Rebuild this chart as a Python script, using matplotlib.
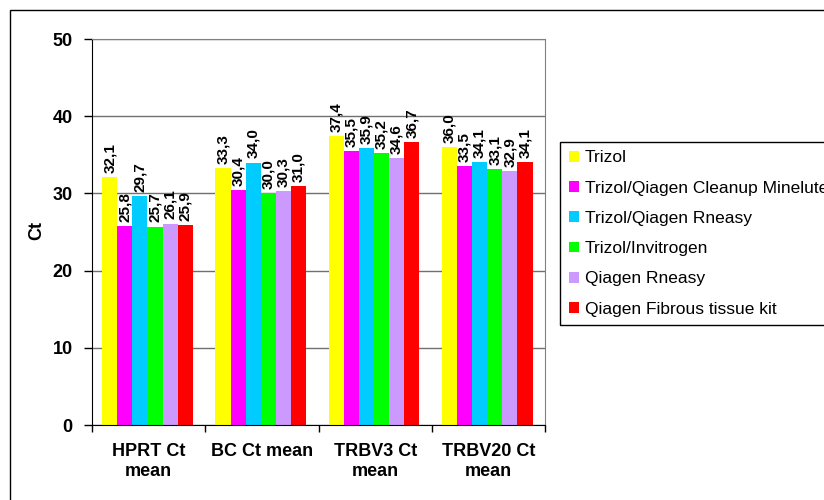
import matplotlib
matplotlib.use("Agg")
import matplotlib.pyplot as plt
from matplotlib.patches import Rectangle

plt.rcParams['font.family'] = ['Liberation Sans', 'DejaVu Sans']

categories = ["HPRT Ct\nmean", "BC Ct mean", "TRBV3 Ct\nmean", "TRBV20 Ct\nmean"]
series_names = ["Trizol", "Trizol/Qiagen Cleanup Minelute", "Trizol/Qiagen Rneasy",
                "Trizol/Invitrogen", "Qiagen Rneasy", "Qiagen Fibrous tissue kit"]
trizol = [32.1, 33.3, 37.4, 36.0]
minelute = [25.8, 30.4, 35.5, 33.5]
trizol_rneasy = [29.7, 34.0, 35.9, 34.1]
invitrogen = [25.7, 30.0, 35.2, 33.1]
qiagen_rneasy = [26.1, 30.3, 34.6, 32.9]
fibrous = [25.9, 31.0, 36.7, 34.1]
series = [trizol, minelute, trizol_rneasy, invitrogen, qiagen_rneasy, fibrous]
colors = ["#FFFF00", "#FF00FF", "#00CCFF", "#00FF00", "#CC99FF", "#FF0000"]

fig = plt.figure(figsize=(8.24, 5), dpi=100)
ax = fig.add_axes([92 / 824, 75 / 500, 453 / 824, 386 / 500])

w = 0.1335
xs = range(len(categories))
for i, (name, vals) in enumerate(zip(series_names, series)):
    pos = [x + (i - 2.5) * w - 0.01 for x in xs]
    ax.bar(pos, vals, width=w, color=colors[i], label=name, zorder=2)
    for p, v in zip(pos, vals):
        ax.annotate(f"{v:.1f}".replace(".", ","), (p, v), xytext=(0, 3),
                    textcoords="offset points", rotation=90, ha="center",
                    va="bottom", fontsize=11, fontweight="bold", zorder=3)

ax.set_ylim(0, 50)
ax.set_xlim(-0.5, 3.5)
ax.set_yticks(range(0, 51, 10))
ax.yaxis.grid(True, color="#707070", lw=1, zorder=0)
ax.tick_params(axis="y", length=6, width=1, pad=8, labelsize=13)
for lbl in ax.get_yticklabels():
    lbl.set_fontweight("bold")

ax.set_xticks(list(xs))
ax.set_xticklabels(categories, fontsize=13, fontweight="bold", linespacing=1.2)
ax.set_xticks([-0.5, 0.5, 1.5, 2.5, 3.5], minor=True)
ax.tick_params(axis="x", which="major", length=0, pad=13)
ax.tick_params(axis="x", which="minor", length=5, width=1)

ax.spines["left"].set_color("black")
ax.spines["bottom"].set_color("black")
ax.spines["top"].set_color("#808080")
ax.spines["right"].set_color("#808080")

fig.text(37 / 824, 1 - 231 / 500, "Ct", rotation=90, ha="center", va="center",
         fontsize=13, fontweight="bold")

ax.legend(loc="upper left", bbox_to_anchor=(560 / 824, 1 - 141.7 / 500),
          bbox_transform=fig.transFigure, borderaxespad=0, fontsize=12.5,
          frameon=True, fancybox=False, edgecolor="black", framealpha=1,
          handlelength=0.57, handleheight=0.57, handletextpad=0.35,
          labelspacing=0.88, borderpad=0.5)

fig.patches.append(Rectangle((10 / 824, -0.1), 2, 1.1 - 10 / 500, fill=False,
                             lw=1, ec="black", transform=fig.transFigure))

fig.savefig("out.png", dpi=100)
